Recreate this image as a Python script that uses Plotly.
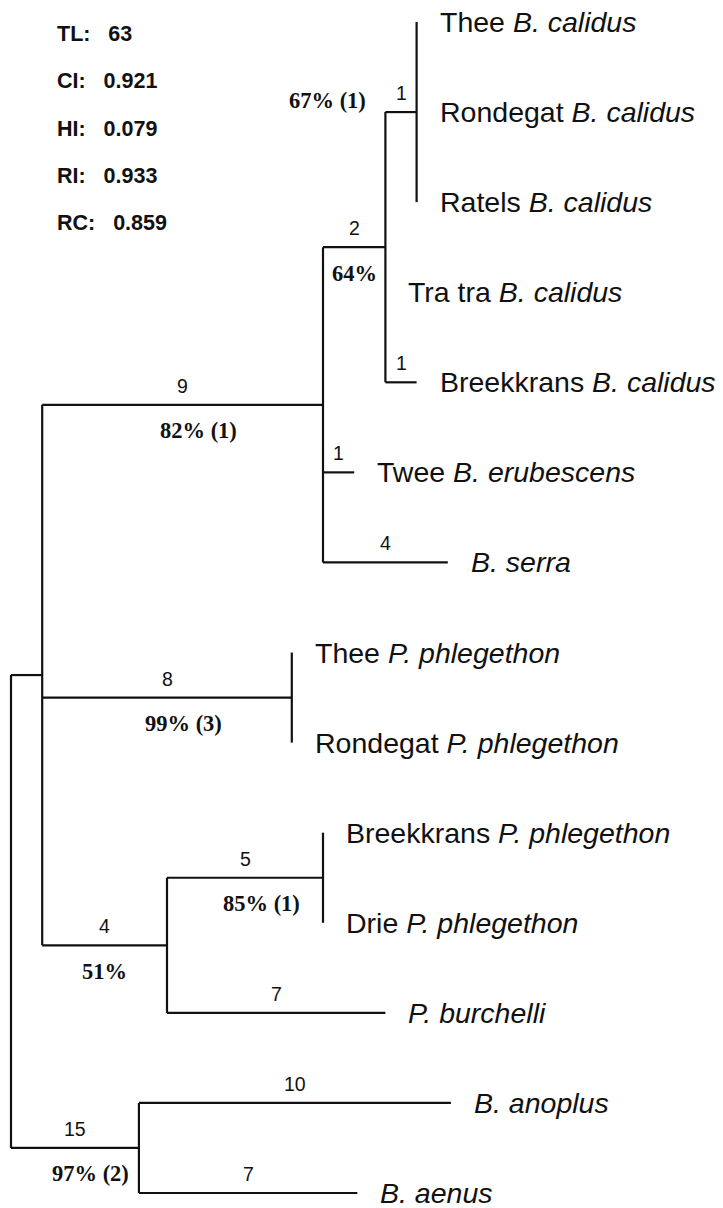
import plotly.graph_objects as go

# ---------------- data ----------------
leaf_locality = ["Thee", "Rondegat", "Ratels", "Tra tra", "Breekkrans", "Twee", "",
                 "Thee", "Rondegat", "Breekkrans", "Drie", "", "", ""]
leaf_species = ["B. calidus", "B. calidus", "B. calidus", "B. calidus", "B. calidus",
                "B. erubescens", "B. serra",
                "P. phlegethon", "P. phlegethon", "P. phlegethon", "P. phlegethon",
                "P. burchelli", "B. anoplus", "B. aenus"]
leaf_parent = ["D", "D", "D", "C", "C", "B", "B", "E", "E", "G", "G", "F", "H", "H"]
leaf_steps = [0, 0, 0, 0, 1, 1, 4, 0, 0, 0, 0, 7, 10, 7]

inner_nodes = ["D", "C", "B", "E", "G", "F", "A", "H"]
inner_parent = ["C", "B", "A", "A", "F", "A", "R", "R"]
inner_steps = [1, 2, 9, 8, 5, 4, None, 15]
inner_support = ["67% (1)", "64%", "82% (1)", "99% (3)", "85% (1)", "51%", None, "97% (2)"]
# drawn lengths of the two root stems (not to scale in the original)
root_stem_drawn = {"A": 1.0, "H": 4.1}

stats_names = ["TL:", "CI:", "HI:", "RI:", "RC:"]
stats_values = ["63", "0.921", "0.079", "0.933", "0.859"]

# ---------------- layout geometry ----------------
W, H = 723, 1208
PX_STEP = 31.2
X0 = 11
Y_TOP, Y_BOT = 22, 1193
n_leaves = len(leaf_species)
row_px = (Y_BOT - Y_TOP) / (n_leaves - 1)
x_range = [-X0 / PX_STEP, (W - X0) / PX_STEP]
y_range = [(n_leaves - 1) + (H - Y_BOT) / row_px, -Y_TOP / row_px]

# ---------------- tree computation ----------------
parent = {}
length = {}
label_steps = {}
support = {}
for i, p in enumerate(leaf_parent):
    key = "L%d" % i
    parent[key] = p
    length[key] = leaf_steps[i]
    label_steps[key] = leaf_steps[i] if leaf_steps[i] else None
for n, p, s, sup in zip(inner_nodes, inner_parent, inner_steps, inner_support):
    parent[n] = p
    length[n] = root_stem_drawn.get(n, s)
    label_steps[n] = s
    support[n] = sup

children = {}
for c, p in parent.items():
    children.setdefault(p, []).append(c)

xpos = {"R": 0.0}
def set_x(node):
    for c in children.get(node, []):
        xpos[c] = xpos[node] + length[c]
        set_x(c)
set_x("R")

ypos = {}
for i in range(n_leaves):
    ypos["L%d" % i] = float(i)
def set_y(node):
    if node in ypos:
        return ypos[node]
    ys = [set_y(c) for c in children[node]]
    ypos[node] = (min(ys) + max(ys)) / 2
    return ypos[node]
set_y("R")

# ---------------- lines ----------------
lx, ly = [], []
for node, p in parent.items():
    if xpos[node] != xpos[p]:
        lx += [xpos[p], xpos[node], None]
        ly += [ypos[node], ypos[node], None]
for node, ch in children.items():
    ys = [ypos[c] for c in ch]
    lx += [xpos[node], xpos[node], None]
    ly += [min(ys), max(ys), None]

fig = go.Figure()
fig.add_trace(go.Scatter(x=lx, y=ly, mode="lines",
                         line=dict(color="#111111", width=2.2),
                         hoverinfo="skip", showlegend=False))

ann = []
# leaf labels
for i in range(n_leaves):
    key = "L%d" % i
    loc = leaf_locality[i]
    txt = (loc + " " if loc else "") + "<i>" + leaf_species[i] + "</i>"
    ann.append(dict(x=xpos[key], y=ypos[key], text=txt, showarrow=False,
                    xanchor="left", yanchor="middle", xshift=22, borderpad=0,
                    font=dict(family="Liberation Sans, Arial", size=28.5, color="#111111")))

# step numbers above branches
for node, s in label_steps.items():
    if s is None:
        continue
    p = parent[node]
    xm = (xpos[p] + xpos[node]) / 2
    ann.append(dict(x=xm, y=ypos[node], text=str(s), showarrow=False,
                    xanchor="center", yanchor="middle", yshift=19,
                    font=dict(family="Liberation Sans, Arial", size=19.5, color="#111111")))

# support values below branches
for node, sup in support.items():
    if not sup:
        continue
    p = parent[node]
    span_px = (xpos[node] - xpos[p]) * PX_STEP
    if span_px < 45:
        ann.append(dict(x=xpos[p], y=ypos[node], text="<b>" + sup + "</b>", showarrow=False,
                        xanchor="right", yanchor="middle", xshift=-17, yshift=12,
                        font=dict(family="Liberation Serif, Times New Roman", size=22.5, color="#111111")))
    else:
        xm = (xpos[p] + xpos[node]) / 2
        shift = 16 if "(" in sup else 0
        ann.append(dict(x=xm, y=ypos[node], text="<b>" + sup + "</b>", showarrow=False,
                        xanchor="center", yanchor="middle", xshift=shift, yshift=-26,
                        font=dict(family="Liberation Serif, Times New Roman", size=22.5, color="#111111")))

# tree statistics
for k, (nm, val) in enumerate(zip(stats_names, stats_values)):
    ann.append(dict(x=55 / W, y=1 - (34 + 47.3 * k) / H, xref="paper", yref="paper",
                    text="<b>" + nm + "\u00a0\u00a0 " + val + "</b>", showarrow=False,
                    xanchor="left", yanchor="middle",
                    font=dict(family="Liberation Sans, Arial", size=21.5, color="#111111")))

fig.update_layout(
    width=W, height=H,
    margin=dict(l=0, r=0, t=0, b=0),
    paper_bgcolor="white", plot_bgcolor="white",
    xaxis=dict(range=x_range, visible=False, fixedrange=True),
    yaxis=dict(range=y_range, visible=False, fixedrange=True),
    annotations=ann,
    showlegend=False,
)

fig.write_html("out.html", config={"displayModeBar": False},
               post_script="document.body.style.margin='0';")
